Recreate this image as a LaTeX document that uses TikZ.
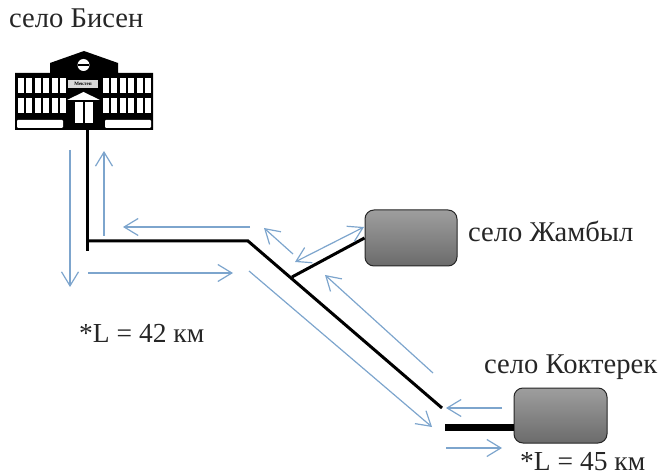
\documentclass[tikz,border=0pt]{standalone}
\usepackage{fontspec}
\setmainfont{Liberation Serif}
\usetikzlibrary{arrows.meta}
\definecolor{flow}{RGB}{125,165,205}
\tikzset{
  x=1pt,y=-1pt,
  road/.style={draw=black,line width=3pt},
  flowarrow/.style={draw=flow,line width=1.2pt,-{Straight Barb[length=14pt,width=17pt,line width=1.2pt]}},
  flowboth/.style={draw=flow,line width=1.2pt,{Straight Barb[length=14pt,width=17pt,line width=1.2pt]}-{Straight Barb[length=14pt,width=17pt,line width=1.2pt]}},
  village/.style={draw=black!85,line width=1pt,rounded corners=9pt,top color=black!38,bottom color=black!58,inner sep=0pt},
  label/.style={font=\fontsize{28.6}{30}\selectfont,text=black!85,inner sep=0pt,anchor=base west},
  dist/.style={font=\fontsize{27.5}{29}\selectfont,text=black!85,inner sep=0pt,anchor=base west},
  win/.style={fill=white,draw=none},
}
\begin{document}
\begin{tikzpicture}
\useasboundingbox (0,0) rectangle (665,476);
% labels
\node[label] (bisen) at (9,28) {село Бисен};
\node[label] (zham) at (468,242) {село Жамбыл};
\node[label] (kokt) at (484,373) {село Коктерек};
\node[dist] (l42) at (79,342) {*L = 42 км};
\node[dist] (l45) at (520,470.5) {*L = 45 км};
% building
\fill[black] (15,73) -- (50,73) -- (50,63) -- (84,51) -- (118,63) -- (118,73) -- (153,73) -- (153,130) -- (15,130) -- cycle;
\foreach \x in {18,35,52,103,120,137}{
  \fill[win] (\x,78) rectangle ++(13.5,15);
  \fill[black] (\x+6,78) rectangle ++(1.5,15);
  \fill[win] (\x,98) rectangle ++(13.5,15);
  \fill[black] (\x+6,98) rectangle ++(1.5,15);
}
\fill[win,rounded corners=1pt] (17,120) rectangle (63,128);
\fill[win,rounded corners=1pt] (105,120) rectangle (151,128);
\fill[win] (83.5,65) circle (6);
\fill[black] (78,64) rectangle (89,66);
\fill[black!15] (68,80) rectangle (98,88);
\node[font=\fontsize{5}{5}\selectfont\bfseries,inner sep=0pt] (sign) at (83,84) {Мектеп};
\fill[win] (67,100) -- (83.5,92) -- (100,100) -- cycle;
\fill[win] (75,102) rectangle (93,123);
\fill[black] (83,102) rectangle (85,123);
% roads
\coordinate (bldg) at (87,130);
\coordinate (stub) at (87,251);
\coordinate (corner) at (87,241);
\coordinate (bend) at (248,241);
\coordinate (end) at (442,408);
\coordinate (fork) at (292,277);
\coordinate (spur) at (445,427);
% villages
\node[village,minimum width=92pt,minimum height=56pt] (zbox) at (411,238) {};
\node[village,minimum width=93pt,minimum height=55pt] (kbox) at (560.5,415.5) {};
\draw[road] (bldg) -- (stub);
\draw[road] (corner) -- (bend) -- (end);
\draw[road] (fork) -- (zbox.west);
\draw[draw=black,line width=7pt] (spur) -- (spur-|kbox.west);
% flows
\coordinate (a1) at (70,150); \coordinate (a2) at (70,287);
\coordinate (b1) at (104,236); \coordinate (b2) at (104,151);
\coordinate (c1) at (250,227); \coordinate (c2) at (123,227);
\coordinate (d1) at (88,273); \coordinate (d2) at (233,273);
\coordinate (e1) at (249,271); \coordinate (e2) at (432,427);
\coordinate (f1) at (293,254); \coordinate (f2) at (264,228);
\coordinate (g1) at (295,262); \coordinate (g2) at (364,227);
\coordinate (h1) at (433,373); \coordinate (h2) at (325,275);
\coordinate (i1) at (502,408); \coordinate (i2) at (446,408);
\coordinate (j1) at (446,448); \coordinate (j2) at (502,448);
\foreach \s/\t in {a1/a2,b1/b2,c1/c2,d1/d2,e1/e2,f1/f2,h1/h2,i1/i2,j1/j2}
  \draw[flowarrow] (\s) -- (\t);
\draw[flowboth] (g1) -- (g2);
\end{tikzpicture}
\end{document}
